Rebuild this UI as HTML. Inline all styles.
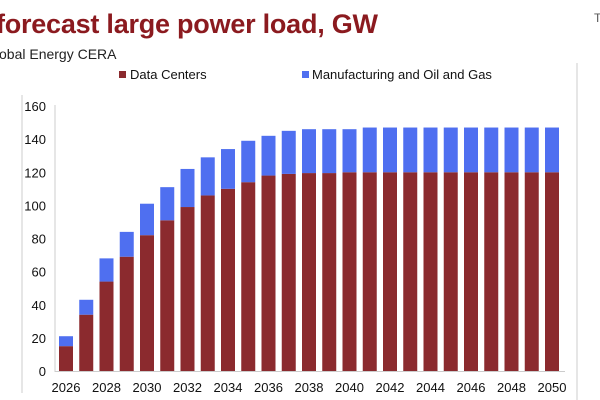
<!DOCTYPE html>
<html><head><meta charset="utf-8"><style>
body{margin:0;width:600px;height:400px;overflow:hidden;background:#fff;font-family:"Liberation Sans",sans-serif;}
svg{position:absolute;left:0;top:0}
</style></head><body>
<svg width="600" height="400">
<text x="-4" y="33" font-size="27" font-weight="bold" fill="#8b1a1f" textLength="382">forecast large power load, GW</text>
<text x="-1" y="59" font-size="14" fill="#222">obal Energy CERA</text>
<text x="594" y="22" font-size="12" fill="#555">T</text>
<line x1="22" y1="95" x2="22" y2="393" stroke="#ccc"/>
<line x1="577" y1="63" x2="577" y2="400" stroke="#ccc"/>
<rect x="119" y="71" width="7" height="7" fill="#8b2a2e"/>
<text x="130" y="79" font-size="13" fill="#111">Data Centers</text>
<rect x="302" y="71" width="7" height="7" fill="#4f6ff0"/>
<text x="312" y="79" font-size="13" fill="#111">Manufacturing and Oil and Gas</text>
<line x1="55" y1="105" x2="55" y2="372" stroke="#ccc"/>
<line x1="55" y1="371.5" x2="565" y2="371.5" stroke="#ccc"/>
<g id="plot"></g>
</svg>
<script>
const years=[2026,2027,2028,2029,2030,2031,2032,2033,2034,2035,2036,2037,2038,2039,2040,2041,2042,2043,2044,2045,2046,2047,2048,2049,2050];
const dataCenters=[15,34,54,69,82,91,99,106,110,114,118,119,119.5,119.5,120,120,120,120,120,120,120,120,120,120,120];
const totals=[21,43,68,84,101,111,122,129,134,139,142,145,146,146,146,147,147,147,147,147,147,147,147,147,147];
const yTicks=[0,20,40,60,80,100,120,140,160];
const y=v=>371-v*(265/160);
const x=i=>66+i*20.25;
const g=document.getElementById('plot');
const NS='http://www.w3.org/2000/svg';
function mk(t,a){const e=document.createElementNS(NS,t);for(const k in a)e.setAttribute(k,a[k]);g.appendChild(e);return e;}
yTicks.forEach(v=>{
 const t=mk('text',{x:46,y:y(v)+5,'font-size':13,'text-anchor':'end',fill:'#111'});
 t.textContent=v;
 
 
});
years.forEach((yr,i)=>{
 const bw=14;
 const r1=mk('rect',{x:x(i)-bw/2,y:y(dataCenters[i]),width:bw,height:y(0)-y(dataCenters[i]),fill:'#8b2a2e'});
 
 
 const r2=mk('rect',{x:x(i)-bw/2,y:y(totals[i]),width:bw,height:y(dataCenters[i])-y(totals[i]),fill:'#4f6ff0'});
 
 
 if(i%2==0){
  const t=mk('text',{x:x(i),y:392,'font-size':13,'text-anchor':'middle',fill:'#111'});
  t.textContent=yr;
  
  
 }
});
</script>
</body></html>
